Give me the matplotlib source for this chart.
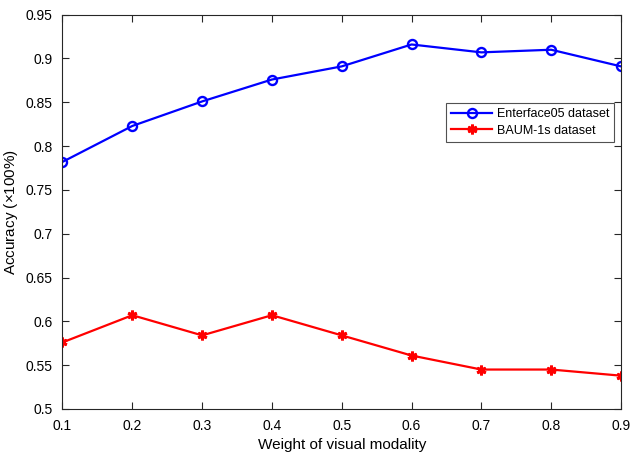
import numpy as np
import matplotlib.pyplot as plt

plt.rcParams['font.family'] = ['Liberation Sans', 'DejaVu Sans']
plt.rcParams['mathtext.fontset'] = 'custom'
plt.rcParams['mathtext.rm'] = 'Liberation Sans'

weight = [0.1, 0.2, 0.3, 0.4, 0.5, 0.6, 0.7, 0.8, 0.9]
enterface = [0.782, 0.823, 0.851, 0.876, 0.891, 0.916, 0.907, 0.910, 0.891]
baum = [0.576, 0.607, 0.584, 0.607, 0.584, 0.561, 0.545, 0.545, 0.538]

fig = plt.figure(figsize=(6.3, 4.59), dpi=100)
ax = fig.add_axes([0.0992, 0.109, 0.8865, 0.859])

ax.plot(weight, enterface, color=(0, 0, 1), lw=1.6, marker='o', ms=6.5,
        mfc='none', mew=1.7, label='Enterface05 dataset')
ax.plot(weight, baum, color=(1, 0, 0), lw=1.6, marker=(6, 2, 0), ms=7,
        mew=2.1, label='BAUM-1s dataset')

ax.set_xlim(0.1, 0.9)
ax.set_ylim(0.5, 0.95)
ax.set_xticks(np.arange(0.1, 0.91, 0.1))
ax.set_xticklabels(['0.1', '0.2', '0.3', '0.4', '0.5', '0.6', '0.7', '0.8', '0.9'])
ax.set_yticks(np.arange(0.5, 0.951, 0.05))
ax.set_yticklabels(['0.5', '0.55', '0.6', '0.65', '0.7', '0.75', '0.8', '0.85', '0.9', '0.95'])

axc = (0.15, 0.15, 0.15)
for s in ax.spines.values():
    s.set_color(axc)
    s.set_linewidth(0.8)
ax.tick_params(direction='in', top=True, right=True, length=5, width=0.8,
               colors=axc, labelcolor='black', labelsize=10, pad=7)

ax.set_xlabel('Weight of visual modality', fontsize=11)
ax.set_ylabel('Accuracy ($\\times$100%)', fontsize=11)

leg = ax.legend(loc='upper left', bbox_to_anchor=(0.687, 0.775), fontsize=9,
                frameon=True, fancybox=False, edgecolor=axc, borderpad=0.4,
                labelspacing=0.35, handlelength=3.3, handletextpad=0.35,
                borderaxespad=0)
leg.get_frame().set_linewidth(0.8)

fig.savefig('out.png', dpi=100)
